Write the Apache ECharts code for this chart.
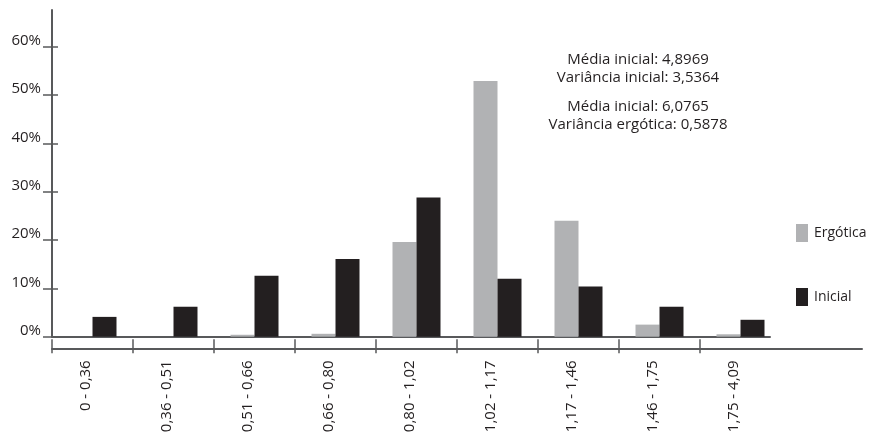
<!DOCTYPE html>
<html>
<head>
<meta charset="utf-8">
<script src="https://cdn.jsdelivr.net/npm/echarts@6/dist/echarts.min.js"></script>
<style>
  html, body { margin: 0; padding: 0; background: #ffffff; }
  #chart { width: 880px; height: 436px; }
</style>
</head>
<body>
<div id="chart"></div>
<script>
// Class intervals of the distribution
const categories = ['0 - 0,36', '0,36 - 0,51', '0,51 - 0,66', '0,66 - 0,80', '0,80 - 1,02',
                    '1,02 - 1,17', '1,17 - 1,46', '1,46 - 1,75', '1,75 - 4,09'];
// Share of observations per interval (%)
const ergotica = [0, 0, 0.4, 0.6, 19.6, 52.9, 24.0, 2.5, 0.5];
const inicial  = [4.1, 6.2, 12.6, 16.1, 28.8, 12.0, 10.4, 6.2, 3.5];
// Percentage ticks on the vertical axis
const yTicks = [0, 10, 20, 30, 40, 50, 60];
// Summary statistics block
const statsInicial = ['Média inicial: 4,8969', 'Variância inicial: 3,5364'];
const statsErgotica = ['Média inicial: 6,0765', 'Variância ergótica: 0,5878'];

const FONT = 'Open Sans';
const TEXT = '#231f20';
const AXIS = '#58595b';
const GRAY = '#b1b2b4';
const BLACK = '#231f20';

// Boundary ticks between intervals and label positions at their centres
const boundaryTicks = categories.map((_, i) => i);
const labelSlots = categories.map((_, i) => i + 0.5);
const slotCount = categories.length + 1;

const chart = echarts.init(document.getElementById('chart'), null, { renderer: 'canvas' });

const yMax = 67.6;

chart.setOption({
  backgroundColor: '#ffffff',
  animation: false,
  textStyle: { fontFamily: FONT, color: TEXT },
  title: [
    {
      text: statsInicial.join('\n'),
      left: 638, top: 50, padding: 0, textAlign: 'center',
      textStyle: { fontFamily: FONT, fontSize: 15, fontWeight: 'normal', color: TEXT, lineHeight: 18.5 }
    },
    {
      text: statsErgotica.join('\n'),
      left: 638, top: 97, padding: 0, textAlign: 'center',
      textStyle: { fontFamily: FONT, fontSize: 15, fontWeight: 'normal', color: TEXT, lineHeight: 18.5 }
    }
  ],
  legend: {
    orient: 'vertical',
    left: 796, top: 224,
    padding: 0,
    icon: 'rect',
    itemWidth: 12, itemHeight: 18,
    itemGap: 46,
    textStyle: { fontFamily: FONT, fontSize: 14, color: TEXT, padding: [0, 0, 0, 1] },
    data: ['Ergótica', 'Inicial']
  },
  grid: [
    // plotting area with bars and the lower interval axis
    { left: 52, right: 18, top: 10, bottom: 99.3 },
    // zero baseline under the bars
    { left: 52, right: 110, top: 10, bottom: 99.3 }
  ],
  xAxis: [
    {
      gridIndex: 0, type: 'category', data: categories, max: categories.length,
      show: false
    },
    {
      gridIndex: 0, type: 'value', position: 'bottom', offset: 11.6,
      min: 0, max: slotCount,
      axisLine: { show: true, onZero: false, lineStyle: { color: AXIS, width: 2 } },
      axisTick: { show: true, inside: true, length: 9, customValues: boundaryTicks,
                  lineStyle: { color: AXIS, width: 1.5 } },
      axisLabel: {
        show: true, customValues: labelSlots, rotate: 90, margin: 12,
        verticalAlign: 'bottom', lineHeight: 13,
        fontFamily: FONT, fontSize: 15, color: TEXT,
        formatter: (v) => categories[Math.floor(v)]
      },
      splitLine: { show: false }
    },
    {
      gridIndex: 0, type: 'value', position: 'bottom', offset: 11.6,
      min: 0, max: slotCount,
      axisLine: { show: false, onZero: false },
      axisTick: { show: true, inside: false, length: 5, customValues: boundaryTicks,
                  lineStyle: { color: AXIS, width: 1.5 } },
      axisLabel: { show: false },
      splitLine: { show: false }
    },
    {
      gridIndex: 1, type: 'value', position: 'bottom', min: 0, max: 1,
      axisLine: { show: true, onZero: false, lineStyle: { color: AXIS, width: 2 } },
      axisTick: { show: false }, axisLabel: { show: false }, splitLine: { show: false }
    }
  ],
  yAxis: [
    {
      gridIndex: 0, type: 'value', min: 0, max: yMax, position: 'left',
      axisLine: { show: true, lineStyle: { color: AXIS, width: 2 } },
      axisTick: { show: true, inside: false, length: 9, customValues: yTicks,
                  lineStyle: { color: AXIS, width: 1.5 } },
      axisLabel: {
        show: true, customValues: yTicks, margin: 11,
        verticalAlign: 'bottom', lineHeight: 12,
        fontFamily: FONT, fontSize: 15, color: TEXT,
        formatter: '{value}%'
      },
      splitLine: { show: false }
    },
    {
      gridIndex: 0, type: 'value', min: 0, max: yMax, position: 'left',
      axisLine: { show: false },
      axisTick: { show: true, inside: true, length: 6, customValues: yTicks,
                  lineStyle: { color: AXIS, width: 1.5 } },
      axisLabel: { show: false },
      splitLine: { show: false }
    },
    {
      gridIndex: 1, type: 'value', min: 0, max: 1, show: false
    }
  ],
  series: [
    {
      name: 'Ergótica', type: 'bar', xAxisIndex: 0, yAxisIndex: 0,
      data: ergotica, barWidth: 24, barGap: '0%',
      itemStyle: { color: GRAY }
    },
    {
      name: 'Inicial', type: 'bar', xAxisIndex: 0, yAxisIndex: 0,
      data: inicial, barWidth: 24, barGap: '0%',
      itemStyle: { color: BLACK }
    }
  ]
});
</script>
</body>
</html>
